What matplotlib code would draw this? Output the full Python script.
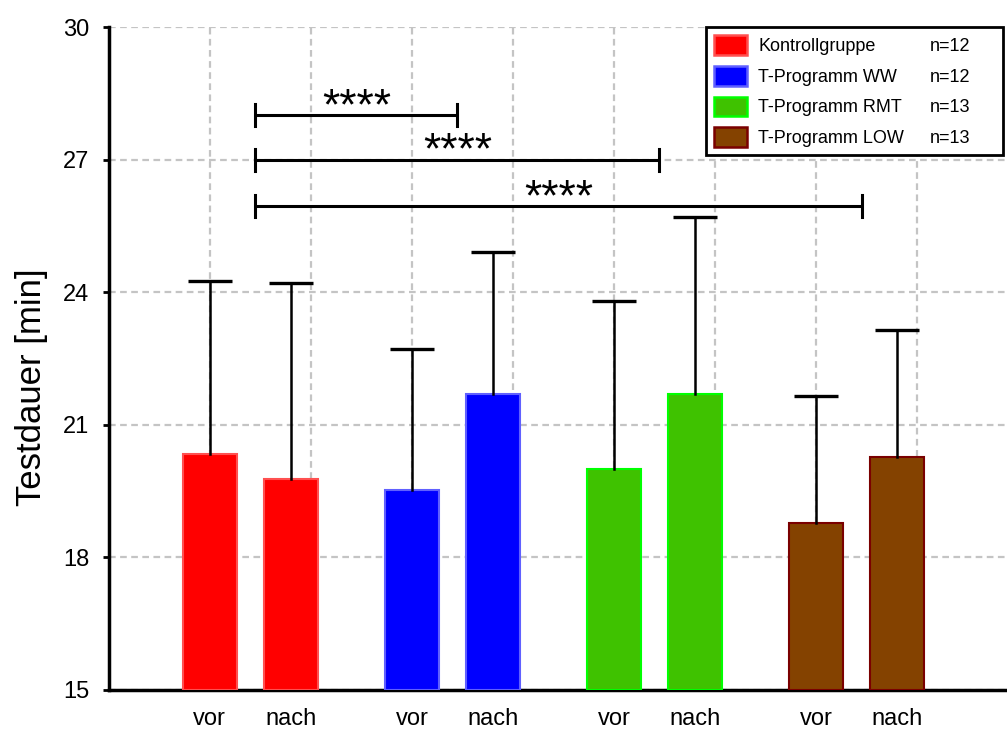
import numpy as np
import matplotlib
matplotlib.use("Agg")
import matplotlib.pyplot as plt
from matplotlib.patches import Patch

plt.rcParams['font.family'] = ['Liberation Sans', 'DejaVu Sans']

# data
groups = ['Kontrollgruppe', 'T-Programm WW', 'T-Programm RMT', 'T-Programm LOW']
n_labels = ['n=12', 'n=12', 'n=13', 'n=13']
vor_mean = [20.33, 19.52, 20.00, 18.78]
nach_mean = [19.78, 21.70, 21.70, 20.27]
vor_sd = [3.92, 3.19, 3.80, 2.87]
nach_sd = [4.42, 3.21, 4.00, 2.87]
tick_labels = ['vor', 'nach']
fill_colors = ['#ff0000', '#0000ff', '#3fc200', '#844200']
edge_colors = ['#ff5050', '#6060ff', '#00ff00', '#7a0000']

# significance brackets: (group a, group b, y level)
sig_pairs = [(0, 1, 28.0), (0, 2, 27.0), (0, 3, 25.95)]
sig_text = '****'

fig = plt.figure(figsize=(10.07, 7.34), dpi=100)
ax = fig.add_axes([0.108, 0.060, 0.892, 0.9032])

grp_pos = np.array([1, 3, 5, 7])
off = 0.8
w = 0.535

xt, xl = [], []
for i in range(4):
    for j, (m, s) in enumerate([(vor_mean[i], vor_sd[i]), (nach_mean[i], nach_sd[i])]):
        x = grp_pos[i] + j * off
        ax.bar(x, m - 15, bottom=15, width=w, color=fill_colors[i],
               edgecolor=edge_colors[i], linewidth=1.5, zorder=3)
        # upper error bar only
        ax.plot([x, x], [m, m + s], color='black', lw=1.8, zorder=4)
        ax.plot([x], [m + s], marker='_', ms=31, mew=2.4, color='black', zorder=4)
        xt.append(x)
        xl.append(tick_labels[j])

centers = grp_pos + off / 2 + 0.05
for a, b, y in sig_pairs:
    x1, x2 = centers[a], centers[b]
    ax.plot([x1, x2], [y, y], color='black', lw=2.2, zorder=5, solid_capstyle='butt')
    for xx in (x1, x2):
        ax.plot([xx, xx], [y - 0.25, y + 0.25], color='black', lw=2.2, zorder=5)
    ax.annotate(sig_text, xy=((x1 + x2) / 2, y), xytext=(0, -3),
                textcoords='offset points', ha='center', va='baseline',
                fontsize=32, zorder=6)

ax.set_xlim(0, 8.89)
ax.set_ylim(15, 30)
ax.set_yticks([15, 18, 21, 24, 27, 30])
ax.set_xticks(xt)
ax.set_xticklabels(xl, fontsize=17)
ax.xaxis.remove_overlapping_locs = False
ax.set_xticks(np.arange(1, 9), minor=True)
ax.tick_params(axis='x', which='both', length=0, pad=13)
ax.tick_params(axis='y', labelsize=17, length=4, width=2, direction='out', pad=10)
ax.set_ylabel('Testdauer [min]', fontsize=25)
ax.yaxis.set_label_coords(-0.068, 0.457)

ax.grid(axis='y', which='major', color='#c4c4c4', linestyle=(0, (3, 2)), lw=1.6, zorder=0)
ax.grid(axis='x', which='minor', color='#c4c4c4', linestyle=(0, (3, 2)), lw=1.6, zorder=0)
ax.set_axisbelow(True)

for sp in ['top', 'right']:
    ax.spines[sp].set_visible(False)
for sp in ['left', 'bottom']:
    ax.spines[sp].set_linewidth(2.5)

handles = [Patch(facecolor=fill_colors[i], edgecolor=edge_colors[i], linewidth=1.8)
           for i in range(4)]
leg = ax.legend(handles, groups, loc='upper left',
                bbox_to_anchor=(0.665, 0.808, 0.3305, 0.192), mode='expand',
                fontsize=13, frameon=True, fancybox=False,
                framealpha=1, edgecolor='black', handlelength=1.83, handleheight=1.3,
                handletextpad=0.6, labelspacing=0.6, borderpad=0.45,
                borderaxespad=0)
leg.get_frame().set_linewidth(2)
leg.set_zorder(10)

fig.canvas.draw()
inv = ax.transAxes.inverted()
for t, n in zip(leg.get_texts(), n_labels):
    bb = t.get_window_extent()
    yc = inv.transform(((bb.x0 + bb.x1) / 2, (bb.y0 + bb.y1) / 2))[1]
    ax.text(0.914, yc, n, transform=ax.transAxes, fontsize=13,
            va='center', ha='left', zorder=11)

fig.savefig('out.png', dpi=100)
